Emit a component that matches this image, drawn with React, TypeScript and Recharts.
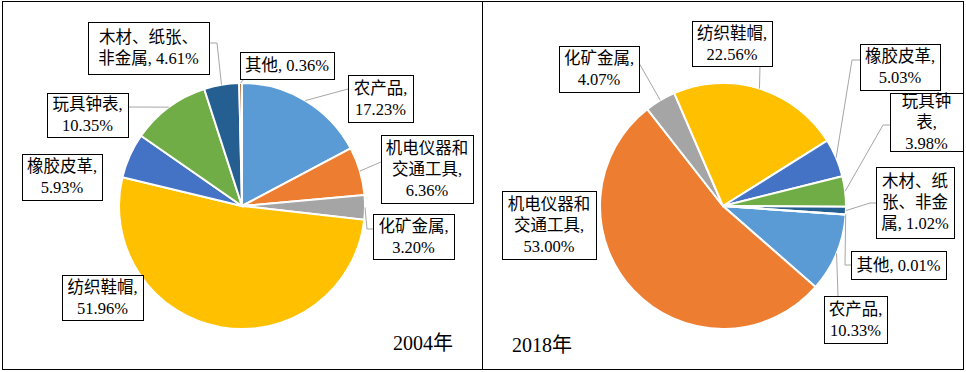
import { Cell, Pie, PieChart } from 'recharts';

const CATEGORIES = ['农产品', '机电仪器和交通工具', '化矿金属', '纺织鞋帽', '橡胶皮革', '玩具钟表', '木材、纸张、非金属', '其他'];
const SHARE_2004 = [17.23, 6.36, 3.2, 51.96, 5.93, 10.35, 4.61, 0.36];
const SHARE_2018 = [10.33, 53.0, 4.07, 22.56, 5.03, 3.98, 1.02, 0.01];
const COLORS = ['#5B9BD5', '#ED7D31', '#A5A5A5', '#FFC000', '#4472C4', '#70AD47', '#255E91', '#9E480E'];

const FONT = "'Liberation Serif', 'Times New Roman', 'Noto Sans CJK SC', serif";
const RAD = Math.PI / 180;

interface LabelLayout {
  box: [number, number, number, number]; // offset from pie centre: x, y, w, h
  breaks: number[];
  attach?: [number, number];
  elbow?: [number, number];
}

// label boxes were placed by hand in the original, offsets from the pie centre
const LAYOUT_2004: LabelLayout[] = [
  { box: [106, -131, 65, 47], breaks: [4], attach: [106, -117] },
  { box: [139, -71, 92, 68], breaks: [5, 10], attach: [139, -44] },
  { box: [131, 8, 81, 45], breaks: [5], attach: [131, 23], elbow: [125, 23] },
  { box: [-180, 69, 81, 45], breaks: [5] },
  { box: [-220, -52, 80, 46], breaks: [5] },
  { box: [-195, -113, 81, 44], breaks: [5], attach: [-114, -99] },
  { box: [-154, -184, 121, 52], breaks: [6], attach: [-33, -163], elbow: [-25, -163] },
  { box: [-2, -154, 94, 27], breaks: [], attach: [2, -127] },
];

const LAYOUT_2018: LabelLayout[] = [
  { box: [101, 90, 63, 47], breaks: [4], attach: [115, 90] },
  { box: [-221, -15, 94, 68], breaks: [5, 10] },
  { box: [-164, -160, 80, 46], breaks: [5], attach: [-84, -143] },
  { box: [-31, -185, 80, 45], breaks: [5], attach: [37, -140] },
  { box: [137, -162, 80, 46], breaks: [5], attach: [137, -146], elbow: [129, -146] },
  { box: [167, -113, 73, 58], breaks: [3, 5], attach: [167, -81], elbow: [160, -81] },
  { box: [153, -39, 78, 71], breaks: [4, 8], attach: [153, -3], elbow: [147, -3] },
  { box: [128, 45, 95, 28], breaks: [], attach: [128, 59], elbow: [122, 59] },
];

function splitLines(text: string, breaks: number[]): string[] {
  const out: string[] = [];
  let start = 0;
  for (const b of breaks) {
    out.push(text.slice(start, b).trim());
    start = b;
  }
  out.push(text.slice(start).trim());
  return out;
}

function makeLabel(layout: LabelLayout[]) {
  return (props: any) => {
    const { cx, cy, midAngle, outerRadius, index, name, value } = props;
    const l = layout[index];
    const [bx, by, w, h] = l.box;
    const x = cx + bx;
    const y = cy + by;
    const lines = splitLines(`${name}, ${Number(value).toFixed(2)}%`, l.breaks);
    const lh = 21;
    const top = y + h / 2 - ((lines.length - 1) * lh) / 2;
    const ex = cx + outerRadius * Math.cos(-midAngle * RAD);
    const ey = cy + outerRadius * Math.sin(-midAngle * RAD);
    let pts = '';
    if (l.attach) {
      pts = `${cx + l.attach[0]},${cy + l.attach[1]} `;
      if (l.elbow) pts += `${cx + l.elbow[0]},${cy + l.elbow[1]} `;
      pts += `${ex},${ey}`;
    }
    return (
      <g key={`lbl-${index}`}>
        {pts && <polyline points={pts} fill="none" stroke="#A6A6A6" strokeWidth={1} />}
        <rect x={x + 0.5} y={y + 0.5} width={w} height={h} fill="#fff" stroke="#000" strokeWidth={1} />
        {lines.map((t, i) => (
          <text
            key={i}
            x={x + w / 2}
            y={top + i * lh}
            textAnchor="middle"
            dominantBaseline="central"
            fontSize={16.5}
            fontFamily={FONT}
            fill="#000"
          >
            {t}
          </text>
        ))}
      </g>
    );
  };
}

const data2004 = CATEGORIES.map((name, i) => ({ name, value: SHARE_2004[i] }));
const data2018 = CATEGORIES.map((name, i) => ({ name, value: SHARE_2018[i] }));

function YearPie({ data, layout, startAngle, year, yearX, yearY }: any) {
  return (
    <PieChart width={483} height={372} margin={{ top: 0, right: 0, bottom: 0, left: 0 }}>
      <Pie
        data={data}
        dataKey="value"
        nameKey="name"
        cx={240}
        cy={206}
        outerRadius={123}
        startAngle={startAngle}
        endAngle={startAngle - 360}
        stroke="#fff"
        strokeWidth={2}
        label={makeLabel(layout)}
        labelLine={false}
        isAnimationActive={false}
      >
        {data.map((_: any, i: number) => (
          <Cell key={i} fill={COLORS[i]} />
        ))}
      </Pie>
      <text x={yearX} y={yearY} dominantBaseline="central" fontSize={20} fontFamily={FONT} fill="#000">
        {year}
      </text>
    </PieChart>
  );
}

export default function App() {
  return (
    <div style={{ position: 'absolute', left: 0, top: 0, width: 966, height: 372, background: '#fff' }}>
      <div style={{ position: 'absolute', left: 2, top: 0 }}>
        <YearPie data={data2004} layout={LAYOUT_2004} startAngle={90} year="2004年" yearX={391} yearY={343} />
      </div>
      <div style={{ position: 'absolute', left: 483, top: 0 }}>
        <YearPie data={data2018} layout={LAYOUT_2018} startAngle={-4} year="2018年" yearX={29} yearY={345} />
      </div>
      <div
        style={{
          position: 'absolute',
          left: 2,
          top: 1,
          width: 960,
          height: 367,
          border: '1.5px solid #000',
          pointerEvents: 'none',
        }}
      />
      <div style={{ position: 'absolute', left: 481.5, top: 1, width: 1.5, height: 369, background: '#000' }} />
    </div>
  );
}
